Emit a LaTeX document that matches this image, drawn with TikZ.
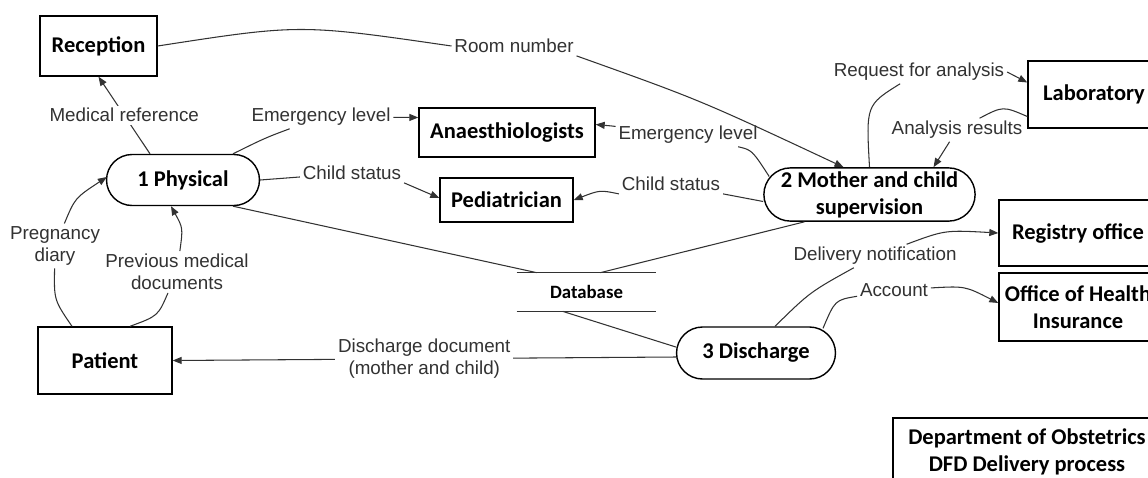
\documentclass[tikz,border=0pt]{standalone}
\usepackage{fontspec}
\setmainfont{Carlito}
\newfontfamily\labelfont{Liberation Sans}
\usepackage{tikz}
\usetikzlibrary{shapes.misc, arrows.meta, calc}
\definecolor{flowgray}{RGB}{50,50,50}
\definecolor{labelgray}{RGB}{50,50,50}
\tikzset{
  entity/.style={rectangle, draw=black, line width=0.8pt, fill=white, align=center,
    font=\fontsize{12.8}{15.3}\selectfont\bfseries, inner sep=2pt},
  proc/.style={rounded rectangle, draw=black, line width=0.8pt, fill=white, align=center,
    font=\fontsize{12.8}{15.3}\selectfont\bfseries, inner sep=2pt},
  store/.style={rectangle, minimum width=2.78cm, minimum height=0.76cm,
    font=\fontsize{10.7}{12}\selectfont\bfseries},
  lbl/.style={font=\labelfont\fontsize{10.7}{12.6}\selectfont, text=labelgray,
    align=center, inner sep=1.5pt, fill=white},
  link/.style={flowgray, line width=0.6pt},
  flow/.style={link, -{Triangle[length=1.8mm, width=1.4mm]}},
}

\begin{document}
\begin{tikzpicture}[x=0.02cm, y=-0.02cm]

\useasboundingbox (0,0) rectangle (1148,477);
\clip (0,0) rectangle (1148,477);

% External entities
\node[entity, minimum width=2.34cm, minimum height=1.2cm] (reception) at (98.5,46) {Reception};
\node[entity, minimum width=3.52cm, minimum height=0.98cm] (anaes) at (507,132.5) {Anaesthiologists};
\node[entity, minimum width=2.66cm, minimum height=0.88cm] (pediatr) at (506.5,200) {Pediatrician};
\node[entity, minimum width=2.64cm, minimum height=1.34cm] (lab) at (1094,94.5) {Laboratory};
\node[entity, minimum width=3.16cm, minimum height=1.32cm] (registry) at (1078,233) {Registry office};
\node[entity, minimum width=3.16cm, minimum height=1.36cm] (insurance) at (1078,307) {Office of Health\\Insurance};
\node[entity, minimum width=2.68cm, minimum height=1.34cm] (patient) at (105,360.5) {Patient};
\node[entity, minimum width=5.36cm, minimum height=1.36cm] (dept) at (1027,452) {Department of Obstetrics\\DFD Delivery process};

% Processes
\node[proc, minimum width=3.2cm, minimum height=1.02cm] (physical) at (183,180) {1 Physical};
\node[proc, minimum width=4.14cm, minimum height=1.06cm] (mother) at (869.5,194.5) {2 Mother and child\\supervision};
\node[proc, minimum width=3.32cm, minimum height=1.04cm] (discharge) at (756,353) {3 Discharge};

% Data store
\node[store] (db) at (586.5,292) {Database};
\draw[link] (db.north west) -- (db.north east);
\draw[link] (db.south west) -- (db.south east);

% Flow labels
\node[lbl] (lRoom) at (514,46) {Room number};
\node[lbl] (lEmerg1) at (321,117) {Emergency level};
\node[lbl] (lEmerg2) at (688,135) {Emergency level};
\node[lbl] (lChild1) at (352,173) {Child status};
\node[lbl] (lChild2) at (671,184) {Child status};
\node[lbl] (lPreg) at (55,246) {Pregnancy\\diary};
\node[lbl] (lPrev) at (177,272) {Previous medical\\documents};
\node[lbl] (lReq) at (919,72) {Request for analysis};
\node[lbl] (lRes) at (957,130) {Analysis results};
\node[lbl] (lDeliv) at (875,256) {Delivery notification};
\node[lbl] (lAcct) at (894,290) {Account};

% Reception -> supervision
\draw[link] (reception.east) .. controls (300,24) .. (lRoom.west);
\draw[flow] (lRoom.south east) .. controls (700,100) .. ($(mother.north)+(-26,0)$);

% Physical
\draw[flow] ($(physical.north)+(-33,0)$) -- node[lbl] (lMedRef) {Medical reference} (reception.south);
\draw[link] ($(physical.north)+(50,0)$) .. controls (265,138) .. (lEmerg1);
\draw[flow] (lEmerg1) -- ($(anaes.west)+(0,-15)$);
\draw[link] (physical.east) -- (lChild1);
\draw[flow] (lChild1.south east) -- ($(pediatr.west)+(0,-2)$);
\draw[link] ($(physical.south)+(50,0)$) -- ($(db.north west)+(20,0)$);

% Supervision
\draw[link] ($(mother.west)+(6,-18)$) .. controls (752,150) .. (lEmerg2);
\draw[flow] (lEmerg2) .. controls (612,126) .. ($(anaes.east)+(0,-8)$);
\draw[link] ($(mother.west)+(0,7)$) -- (lChild2.south east);
\draw[flow] (lChild2.south west) .. controls (600,190) .. (pediatr.east);
\draw[link] ($(mother.south)+(-65,0)$) -- ($(db.north east)+(-56,0)$);
\draw[link] (mother.north) .. controls (866,105) .. (lReq);
\draw[flow] (lReq.east) -- ($(lab.west)+(0,-12)$);
\draw[link] ($(lab.west)+(0,22)$) .. controls (1003,106) .. (lRes);
\draw[flow] (lRes) -- ($(mother.north)+(64,0)$);

% Patient
\draw[link] ($(patient.north)+(-33,0)$) .. controls (54,300) .. (lPreg);
\draw[flow] (lPreg) .. controls (75,198) .. ($(physical.west)+(1,-3)$);
\draw[link] ($(patient.north)+(25,0)$) .. controls (158,316) .. (lPrev);
\draw[flow] (lPrev) .. controls (183,228) .. ($(physical.south)+(-12,0)$);

% Discharge
\draw[link] ($(db.south west)+(46,0)$) -- ($(discharge.west)+(0,-6)$);
\draw[flow] ($(discharge.west)+(0,4)$) -- node[lbl] (lDisch) {Discharge document\\(mother and child)} (patient.east);
\draw[link] ($(discharge.north)+(19,0)$) .. controls (810,292) .. (lDeliv);
\draw[flow] (lDeliv) .. controls (945,230) .. (registry.west);
\draw[link] ($(discharge.north)+(67,2)$) .. controls (835,300) .. (lAcct);
\draw[flow] (lAcct) .. controls (965,286) .. ($(insurance.west)+(0,-4)$);

\end{tikzpicture}
\end{document}
